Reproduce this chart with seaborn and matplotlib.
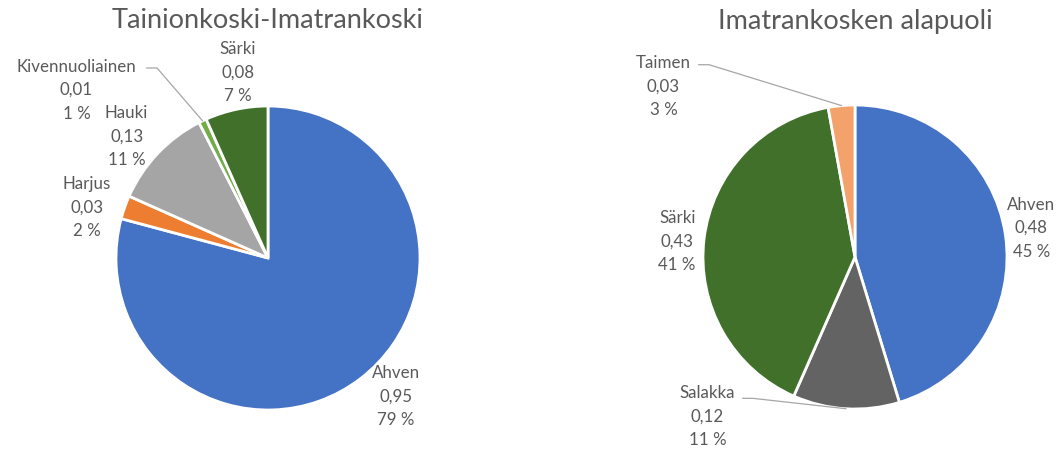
import numpy as np
import matplotlib
matplotlib.use("Agg")
import matplotlib.pyplot as plt
import seaborn as sns

# data
left_title = "Tainionkoski-Imatrankoski"
left_names = ["Ahven", "Harjus", "Hauki", "Kivennuoliainen", "Särki"]
left_values = [0.95, 0.03, 0.13, 0.01, 0.08]
left_pct = [79, 2, 11, 1, 7]
left_colors = ["#4472C4", "#ED7D31", "#A5A5A5", "#70AD47", "#41702A"]

right_title = "Imatrankosken alapuoli"
right_names = ["Ahven", "Salakka", "Särki", "Taimen"]
right_values = [0.48, 0.12, 0.43, 0.03]
right_pct = [45, 11, 41, 3]
right_colors = ["#4472C4", "#636363", "#41702A", "#F4A26B"]

sns.set_theme(style="white")
plt.rcParams["font.family"] = ["Lato", "DejaVu Sans"]
txt_color = "#595959"

W, H = 1064, 455
R = 152  # pie radius in px
LH = 23.5 / R  # label line height in pie radii
fig = plt.figure(figsize=(W / 100, H / 100), dpi=100)


def make_axes(cx, cy, size=420):
    ax = fig.add_axes([(cx - size / 2) / W, (H - cy - size / 2) / H, size / W, size / H])
    return ax, size / 2 / R


# label placement (in pie radii relative to centre) and leader lines
left_label_pos = {"Ahven": (0.84, -0.91), "Harjus": (-1.19, 0.33), "Hauki": (-0.93, 0.80),
                  "Kivennuoliainen": (-1.26, 1.105), "Särki": (-0.20, 1.22)}
left_leaders = {"Kivennuoliainen": (-0.80, 1.25)}
right_label_pos = {"Ahven": (1.16, 0.19), "Salakka": (-0.97, -1.05),
                   "Särki": (-1.17, 0.10), "Taimen": (-1.26, 1.12)}
right_leaders = {"Salakka": (-0.74, -0.93), "Taimen": (-1.03, 1.265)}


def draw_pie(ax, lim, title, names, values, pct, colors, label_pos, leaders):
    wedges, _ = ax.pie(values, colors=colors, startangle=90, counterclock=False,
                       radius=1.0, wedgeprops=dict(edgecolor="white", linewidth=2))
    ax.set_xlim(-lim, lim)
    ax.set_ylim(-lim, lim)
    ax.set_aspect("equal")
    ax.axis("off")
    for w, name, v, p in zip(wedges, names, values, pct):
        lx, ly = label_pos[name]
        ax.text(lx, ly + LH, name, ha="center", va="center", fontsize=12.2, color=txt_color)
        ax.text(lx, ly, f"{v:.2f}".replace(".", ","), ha="center", va="center",
                fontsize=12.2, color=txt_color)
        ax.text(lx, ly - LH, f"{p} %", ha="center", va="center",
                fontsize=12.2, color=txt_color)
        if name in leaders:
            sx, sy = leaders[name]
            mid = np.deg2rad((w.theta1 + w.theta2) / 2)
            ex, ey = np.cos(mid), np.sin(mid)
            ax.plot([sx, sx + 0.07, ex], [sy, sy, ey], color="#A6A6A6", lw=0.9,
                    clip_on=False)
    fig.text(ax.get_position().x0 + ax.get_position().width / 2, 1 - 21 / H, title,
             ha="center", va="center", fontsize=19.5, color=txt_color)


axl, liml = make_axes(268, 258)
draw_pie(axl, liml, left_title, left_names, left_values, left_pct, left_colors,
         left_label_pos, left_leaders)
axr, limr = make_axes(855, 257)
draw_pie(axr, limr, right_title, right_names, right_values, right_pct, right_colors,
         right_label_pos, right_leaders)

fig.savefig("out.png", dpi=100, facecolor="white")
